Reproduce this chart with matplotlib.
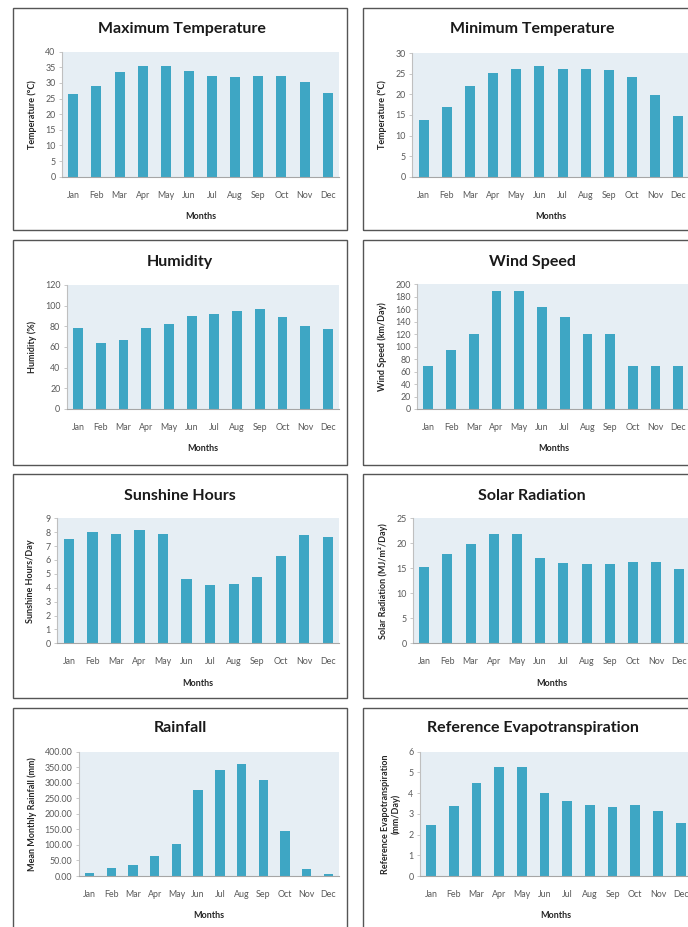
import matplotlib.pyplot as plt
import matplotlib.patches as patches
from matplotlib.ticker import FormatStrFormatter

plt.rcParams['font.family'] = ['Lato', 'DejaVu Sans']

meses = ['Jan', 'Feb', 'Mar', 'Apr', 'May', 'Jun', 'Jul', 'Aug', 'Sep', 'Oct', 'Nov', 'Dec']

temp_max = [26.4, 29.1, 33.4, 35.4, 35.4, 33.9, 32.3, 32.0, 32.3, 32.3, 30.3, 26.9]
temp_min = [13.9, 17.0, 22.0, 25.3, 26.3, 26.8, 26.3, 26.3, 26.0, 24.2, 19.8, 14.7]
humedad = [78.7, 64.2, 66.5, 78.7, 82.0, 90.3, 92.3, 95.2, 97.1, 89.4, 80.6, 77.1]
viento = [69, 95, 120, 190, 190, 164, 147, 120, 120, 69, 69, 69]
sol_horas = [7.5, 8.0, 7.85, 8.15, 7.85, 4.65, 4.2, 4.28, 4.8, 6.25, 7.82, 7.65]
radiacion = [15.3, 17.9, 19.8, 21.8, 21.8, 17.0, 16.1, 15.9, 15.8, 16.2, 16.2, 14.8]
lluvia = [10.7, 26.8, 35.0, 63.0, 103.0, 278.0, 340.0, 359.0, 309.0, 144.0, 21.0, 6.0]
evapo = [2.48, 3.39, 4.47, 5.26, 5.26, 3.99, 3.62, 3.42, 3.31, 3.42, 3.13, 2.54]

W, H = 688, 927
COLOR_BARRA = '#3ea6c4'
COLOR_FONDO = '#e6eef4'

fig = plt.figure(figsize=(W / 100, H / 100), dpi=100)


def caja(x0, y0, x1, y1):
    # marco de cada panel, en pixeles
    r = patches.Rectangle((x0 / W, 1 - y1 / H), (x1 - x0) / W, (y1 - y0) / H,
                          transform=fig.transFigure, fill=False,
                          edgecolor='#555555', linewidth=1.0)
    fig.add_artist(r)


def panel(valores, titulo, ylabel, ymax, paso, izq, der, arriba, abajo,
          tx, ty, ylab_x, fmt=None):
    ax = fig.add_axes([izq / W, 1 - abajo / H, (der - izq) / W, (abajo - arriba) / H])
    ax.set_facecolor(COLOR_FONDO)
    ax.bar(range(12), valores, width=0.43, color=COLOR_BARRA, zorder=2)
    ax.set_xlim(-0.5, 11.5)
    ax.set_ylim(0, ymax)
    ax.set_yticks([paso * i for i in range(int(round(ymax / paso)) + 1)])
    if fmt:
        ax.yaxis.set_major_formatter(FormatStrFormatter(fmt))
    ax.set_xticks(range(12))
    ax.set_xticklabels(meses)
    for s in ['top', 'right']:
        ax.spines[s].set_visible(False)
    ax.spines['left'].set_color('#bfbfbf')
    ax.spines['bottom'].set_color('#a6a6a6')
    ax.spines['left'].set_linewidth(0.8)
    ax.spines['bottom'].set_linewidth(0.8)
    ax.tick_params(axis='y', length=2.5, width=0.6, color='#bfbfbf',
                   labelsize=6.4, labelcolor='#595959', pad=2)
    ax.tick_params(axis='x', length=0, labelsize=6.4, labelcolor='#595959', pad=10)
    ax.set_xlabel('Months', fontsize=6.5, fontweight='bold', color='#262626', labelpad=9)
    ax.set_ylabel(ylabel, fontsize=6.5, fontweight='bold', color='#262626')
    ax.yaxis.set_label_coords((ylab_x - izq) / (der - izq), 0.5)
    fig.text(tx / W, 1 - ty / H, titulo, fontsize=11.5, fontweight='bold',
             color='#1a1a1a', ha='center', va='center')
    return ax


# marcos
caja(13, 8, 347, 230)
caja(363, 8, 700, 230)
caja(13, 240, 347, 465)
caja(363, 240, 700, 465)
caja(13, 474, 347, 698)
caja(363, 474, 700, 698)
caja(13, 708, 347, 940)
caja(363, 708, 700, 940)

panel(temp_max, 'Maximum Temperature', 'Temperature (°C)', 40, 5,
      61.7, 339.3, 51.7, 176.7, 182, 29, 37)
panel(temp_min, 'Minimum Temperature', 'Temperature (°C)', 30, 5,
      412, 690, 53.3, 176.7, 532, 29, 387)
panel(humedad, 'Humidity', 'Humidity (%)', 120, 20,
      66.6, 339.4, 285, 409, 180, 262, 37)
panel(viento, 'Wind Speed', 'Wind Speed (km/Day)', 200, 20,
      417, 689.7, 284.3, 409, 532, 262, 387)
panel(sol_horas, 'Sunshine Hours', 'Sunshine Hours/Day', 9, 1,
      57.2, 339.4, 518.3, 643.3, 180, 496, 35)
panel(radiacion, 'Solar Radiation', 'Solar Radiation (MJ/m²/Day)', 25, 5,
      412.7, 690.9, 518.3, 643.3, 532, 496, 388)
panel(lluvia, 'Rainfall', 'Mean Monthly Rainfall (mm)', 400, 50,
      78.8, 339.2, 751.7, 876, 180, 728, 37, fmt='%.2f')
panel(evapo, 'Reference Evapotranspiration', 'Reference Evapotranspiration\n(mm/Day)', 6, 1,
      419.7, 692, 751.7, 876, 533, 728, 401)

fig.savefig('out.png', dpi=100)
